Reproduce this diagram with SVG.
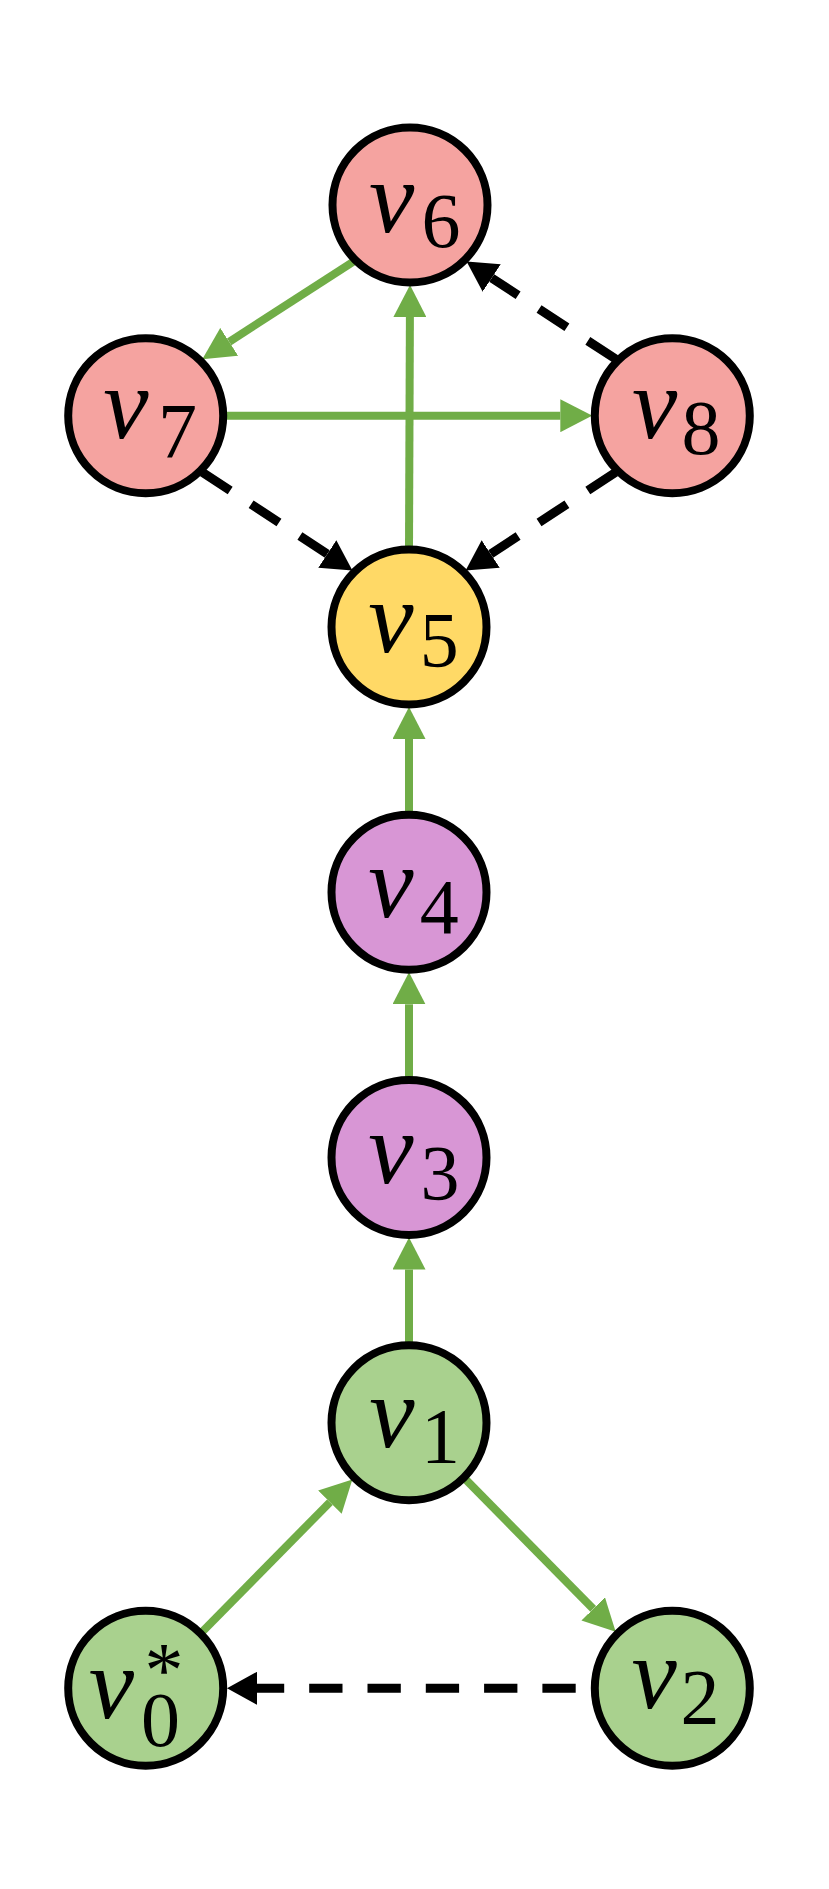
<svg xmlns="http://www.w3.org/2000/svg" width="829" height="1889" viewBox="0 0 829 1889">
<style>
.node{stroke:#000;stroke-width:8}
.g{fill:#A9D18E}.y{fill:#FFD966}.p{fill:#F5A3A0}.m{fill:#D896D5}
.v{font-family:"Liberation Serif",serif;font-style:italic;font-size:102px;text-anchor:middle;fill:#000}
.d{font-family:"Liberation Serif",serif;font-size:78px;text-anchor:middle;fill:#000}
.ge{stroke:#70AD47;stroke-width:8;fill:none}
.be{stroke:#000;stroke-width:9;fill:none;stroke-dasharray:33.3 25}
</style>
<defs>
<marker id="ag" markerUnits="userSpaceOnUse" viewBox="0 0 32 33" markerWidth="32" markerHeight="33" refX="0" refY="16.5" orient="auto"><path d="M0,0 L32,16.5 L0,33 z" fill="#70AD47"/></marker>
<marker id="ab" markerUnits="userSpaceOnUse" viewBox="0 0 30 33" markerWidth="30" markerHeight="33" refX="0" refY="16.5" orient="auto"><path d="M0,0 L30,16.5 L0,33 z" fill="#000"/></marker>
</defs>
<rect width="829" height="1889" fill="#fff"/>
<g id="edges">
<path class="ge" d="M202.3,1631.7 L329.9,1502.2" marker-end="url(#ag)"/>
<path class="ge" d="M465.6,1479.4 L593.2,1608.9" marker-end="url(#ag)"/>
<path class="be" d="M575.7,1688.3 L257,1688.3" marker-end="url(#ab)"/>
<path class="ge" d="M409,1342.8 L409,1269.5" marker-end="url(#ag)"/>
<path class="ge" d="M409,1077.5 L409,1004.3" marker-end="url(#ag)"/>
<path class="ge" d="M409,812.3 L409,739" marker-end="url(#ag)"/>
<path class="ge" d="M409,547 L409.9,317" marker-end="url(#ag)"/>
<path class="ge" d="M353.4,261.6 L229.2,341.8" marker-end="url(#ag)"/>
<path class="ge" d="M225.7,415.7 L560.3,415.7" marker-end="url(#ag)"/>
<path class="be" d="M202.3,472.3 L327.3,554" marker-end="url(#ab)"/>
<path class="be" d="M615.7,472.3 L490.7,554" marker-end="url(#ab)"/>
<path class="be" d="M615.7,359.1 L491.7,278" marker-end="url(#ab)"/>
</g>
<g id="v6"><circle class="node p" cx="410" cy="205" r="77.5"/><text class="v" x="391.7" y="231.5">v</text><text class="d" x="441" y="247">6</text></g>
<g id="v7"><circle class="node p" cx="145.7" cy="415.7" r="77.5"/><text class="v" x="125.8" y="438">v</text><text class="d" x="177.5" y="456.5">7</text></g>
<g id="v8"><circle class="node p" cx="672.3" cy="415.7" r="77.5"/><text class="v" x="654.7" y="438">v</text><text class="d" x="701" y="454">8</text></g>
<g id="v5"><circle class="node y" cx="409" cy="627" r="77.5"/><text class="v" x="390.8" y="651.5">v</text><text class="d" x="439.2" y="665.5">5</text></g>
<g id="v4"><circle class="node m" cx="409" cy="892.3" r="77.5"/><text class="v" x="390.8" y="916.5">v</text><text class="d" x="439.2" y="933">4</text></g>
<g id="v3"><circle class="node m" cx="409" cy="1157.5" r="77.5"/><text class="v" x="390.8" y="1183">v</text><text class="d" x="440" y="1199">3</text></g>
<g id="v1"><circle class="node g" cx="409" cy="1422.8" r="77.5"/><text class="v" x="391.8" y="1446.5">v</text><text class="d" x="440.5" y="1461.5">1</text></g>
<g id="v2"><circle class="node g" cx="672.3" cy="1688.3" r="77.5"/><text class="v" x="654.2" y="1708">v</text><text class="d" x="700" y="1723.3">2</text></g>
<g id="v0"><circle class="node g" cx="145.7" cy="1688.3" r="77.5"/><text class="v" x="111.5" y="1718">v</text><text class="d" x="160.5" y="1746">0</text><text class="d" x="164" y="1696" font-size="92">*</text></g>
</svg>
